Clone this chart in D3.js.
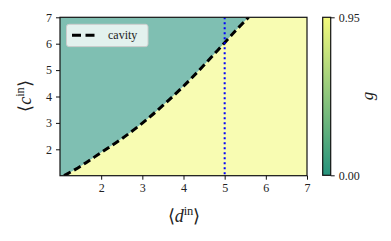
<!DOCTYPE html>
<html>
<head>
<meta charset="utf-8">
<script src="https://cdn.jsdelivr.net/npm/d3@7/dist/d3.min.js"></script>
<style>
  html, body { margin: 0; padding: 0; background: #fff; }
  svg { display: block; }
</style>
</head>
<body>
<svg id="chart" width="391" height="241"></svg>
<script>
// ---- data ----
const xDomain = [1, 7];
const yDomain = [1, 7];
const xTicks = [2, 3, 4, 5, 6, 7];
const yTicks = [2, 3, 4, 5, 6, 7];
const cavityX = [1.1, 1.5, 2.0, 2.5, 3.0, 3.5, 4.0, 4.5, 5.0, 5.3, 5.58];
const cavityY = [1.0, 1.36, 1.88, 2.40, 2.99, 3.66, 4.39, 5.19, 6.04, 6.55, 7.0];
const gAbove = 0.0;   // value of g above the cavity line
const gBelow = 0.95;  // value of g below the cavity line
const cbarTicks = [0.0, 0.95];
const cbarTickLabels = ["0.00", "0.95"];
const vLineX = [5];
const legendLabels = ["cavity"];

// ---- layout ----
const FONT = '"Liberation Serif", "Times New Roman", serif';
const svg = d3.select("#chart");
const L = 60, R = 307, T = 17.3, B = 175.7;
const x = d3.scaleLinear().domain(xDomain).range([L, R]);
const y = d3.scaleLinear().domain(yDomain).range([B, T]);
const summer = d3.scaleLinear().domain([0, 1]).range(["#008066", "#ffff66"]).interpolate(d3.interpolateRgb);

const defs = svg.append("defs");
defs.append("clipPath").attr("id", "plotclip")
  .append("rect").attr("x", L).attr("y", T).attr("width", R - L).attr("height", B - T);

const plot = svg.append("g").attr("clip-path", "url(#plotclip)");
plot.append("rect").attr("x", L).attr("y", T).attr("width", R - L).attr("height", B - T)
  .attr("fill", summer(gAbove)).attr("fill-opacity", 0.5);
const pts = cavityX.map((d, i) => [d, cavityY[i]]);
const curveGen = d3.line().x(d => x(d[0])).y(d => y(d[1])).curve(d3.curveMonotoneX);
const regionPath = curveGen(pts) + "L" + x(xDomain[1]) + "," + y(yDomain[1]) +
  "L" + x(xDomain[1]) + "," + y(yDomain[0]) + "L" + x(cavityX[0]) + "," + y(yDomain[0]) + "Z";
plot.append("path").attr("d", regionPath).attr("fill", "#fff");
plot.append("path").attr("d", regionPath)
  .attr("fill", summer(gBelow)).attr("fill-opacity", 0.5);

plot.append("path")
  .attr("d", curveGen(pts))
  .attr("fill", "none").attr("stroke", "#000").attr("stroke-width", 3)
  .attr("stroke-dasharray", "7.5,4");

plot.selectAll(".vline").data(vLineX).enter().append("line")
  .attr("x1", d => x(d)).attr("x2", d => x(d)).attr("y1", T).attr("y2", B)
  .attr("stroke", "#0000ff").attr("stroke-width", 2).attr("stroke-dasharray", "2,3");

svg.append("rect").attr("x", L).attr("y", T).attr("width", R - L).attr("height", B - T)
  .attr("fill", "none").attr("stroke", "#111").attr("stroke-width", 1.2);

const xAxis = d3.axisBottom(x).tickValues(xTicks).tickSize(4).tickPadding(4).tickFormat(d3.format("d"));
const yAxis = d3.axisLeft(y).tickValues(yTicks).tickSize(4).tickPadding(4).tickFormat(d3.format("d"));
const gx = svg.append("g").attr("transform", `translate(0,${B})`).call(xAxis);
const gy = svg.append("g").attr("transform", `translate(${L},0)`).call(yAxis);
[gx, gy].forEach(g => {
  g.attr("font-family", FONT);
  g.select(".domain").remove();
  g.selectAll(".tick line").attr("stroke", "#111").attr("stroke-width", 1);
  g.selectAll(".tick text").attr("font-size", 12).attr("fill", "#222");
});

const xl = svg.append("text").attr("x", 184).attr("y", 222).attr("text-anchor", "middle").attr("font-size", 18);
xl.append("tspan").text("\u27E8");
xl.append("tspan").attr("font-style", "italic").text("d");
xl.append("tspan").attr("font-size", 12.5).attr("dy", -7).text("in");
xl.append("tspan").attr("dy", 7).text("\u27E9");

const yl = svg.append("text").attr("transform", "translate(31,96) rotate(-90)")
  .attr("text-anchor", "middle").attr("font-size", 18);
yl.append("tspan").text("\u27E8");
yl.append("tspan").attr("font-style", "italic").text("c");
yl.append("tspan").attr("font-size", 12.5).attr("dy", -7).text("in");
yl.append("tspan").attr("dy", 7).text("\u27E9");

const lg = svg.append("g");
lg.append("rect").attr("x", 66.5).attr("y", 24.3).attr("width", 81.5).attr("height", 22.3)
  .attr("rx", 2.5).attr("fill", "#fff").attr("fill-opacity", 0.78)
  .attr("stroke", "#cccccc").attr("stroke-width", 1);
lg.append("line").attr("x1", 72).attr("x2", 99).attr("y1", 35.3).attr("y2", 35.3)
  .attr("stroke", "#000").attr("stroke-width", 3).attr("stroke-dasharray", "9,4.5");
lg.append("text").attr("x", 108).attr("y", 39.3).attr("font-size", 12).text(legendLabels[0]);

const cbL = 322.7, cbW = 8, cbT = 17.3, cbB = 175.3;
const cy = d3.scaleLinear().domain([cbarTicks[0], cbarTicks[cbarTicks.length - 1]]).range([cbB, cbT]);
const grad = defs.append("linearGradient").attr("id", "cbgrad")
  .attr("x1", 0).attr("y1", 1).attr("x2", 0).attr("y2", 0);
d3.range(0, 1.0001, 0.1).forEach(t => {
  grad.append("stop").attr("offset", t)
    .attr("stop-color", summer(cbarTicks[0] + t * (cbarTicks[1] - cbarTicks[0])));
});
svg.append("rect").attr("x", cbL).attr("y", cbT).attr("width", cbW).attr("height", cbB - cbT)
  .attr("fill", "#fff");
svg.append("rect").attr("x", cbL).attr("y", cbT).attr("width", cbW).attr("height", cbB - cbT)
  .attr("fill", "url(#cbgrad)").attr("fill-opacity", 0.85);
svg.append("rect").attr("x", cbL).attr("y", cbT).attr("width", cbW).attr("height", cbB - cbT)
  .attr("fill", "none").attr("stroke", "#111").attr("stroke-width", 1.2);
const cAxis = d3.axisRight(cy).tickValues(cbarTicks).tickSize(4).tickPadding(4)
  .tickFormat((d, i) => cbarTickLabels[i]);
const gc = svg.append("g").attr("transform", `translate(${cbL + cbW},0)`).call(cAxis);
gc.attr("font-family", FONT);
gc.select(".domain").remove();
gc.selectAll(".tick line").attr("stroke", "#111");
gc.selectAll(".tick text").attr("font-size", 12).attr("fill", "#222");

svg.append("text").attr("transform", "translate(373,96) rotate(-90)")
  .attr("text-anchor", "middle").attr("font-size", 17).attr("font-style", "italic").text("g");

svg.selectAll("text").style("font-family", FONT).style("fill", "#222");
</script>
</body>
</html>
